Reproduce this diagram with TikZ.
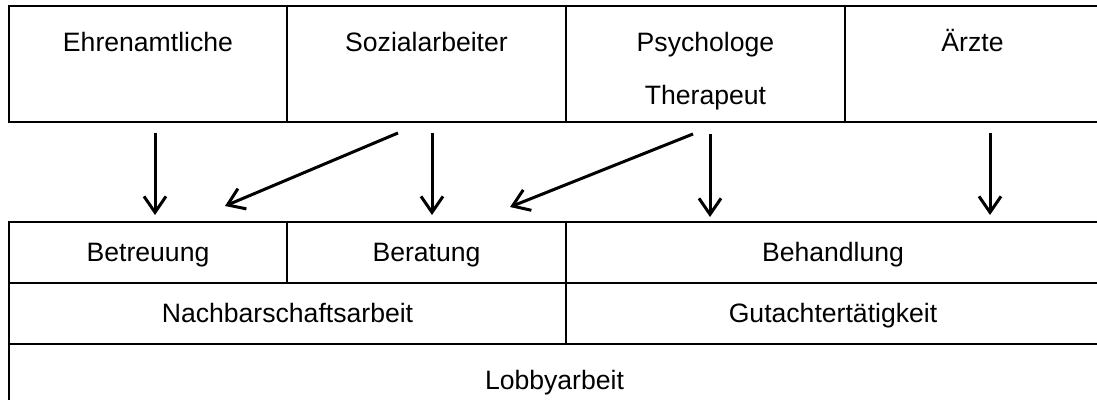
\documentclass[tikz,border=0pt]{standalone}
\usepackage{fontspec}
\setmainfont{Liberation Sans}
\usetikzlibrary{arrows.meta}
\tikzset{person/.style={
  draw, line width=1.4pt,
  anchor=north west,
  inner sep=0pt, outer sep=0pt,
  text height=23pt, text depth=35pt,
  minimum height=58pt,
  font=\fontsize{13.3}{26.5}\selectfont
}}
\tikzset{task/.style={
  draw, line width=1.4pt,
  anchor=north west,
  inner sep=0pt, outer sep=0pt,
  text height=11pt, text depth=2pt,
  minimum height=30.5pt,
  font=\fontsize{13.3}{16}\selectfont
}}
\tikzset{flow/.style={
  line width=1.5pt,
  -{Straight Barb[length=8pt,width=11pt]}
}}

\begin{document}
\begin{tikzpicture}[x=0.5pt,y=-0.5pt]
  \useasboundingbox (0,0) rectangle (1097,400);
  \clip (0,0) rectangle (1097,400);

  % who does it
  \node [person, minimum width=139pt] (ehren) at (9,6) {Ehrenamtliche};
  \node [person, minimum width=139.5pt] (sozial) at (ehren.north east) {Sozialarbeiter};
  \node [person, minimum width=139.5pt] (psycho) at (sozial.north east)
    {\begin{tabular}[t]{@{}c@{}}Psychologe\\Therapeut\end{tabular}};
  \node [person, minimum width=127.5pt] (aerzte) at (psycho.north east) {Ärzte};

  % what they do
  \node [task, minimum width=139pt] (betreuung) at (9,222) {Betreuung};
  \node [task, minimum width=139.5pt] (beratung) at (betreuung.north east) {Beratung};
  \node [task, minimum width=267pt] (behandlung) at (beratung.north east) {Behandlung};
  \node [task, minimum width=278.5pt] (nachbar) at (betreuung.south west) {Nachbarschaftsarbeit};
  \node [task, minimum width=267pt] (gutachter) at (nachbar.north east) {Gutachtertätigkeit};
  \node [task, minimum width=545.5pt, minimum height=37pt] (lobby) at (nachbar.south west) {Lobbyarbeit};

  \coordinate (ehren-o) at (155,133);
  \coordinate (betreuung-i) at (155,215);
  \coordinate (sozial-o1) at (398,133);
  \coordinate (betreuung-i2) at (225,206);
  \coordinate (sozial-o2) at (432,133);
  \coordinate (beratung-i) at (432,215);
  \coordinate (psycho-o1) at (693,134);
  \coordinate (beratung-i2) at (510,207);
  \coordinate (psycho-o2) at (710,134);
  \coordinate (behandlung-i) at (710,217);
  \coordinate (aerzte-o) at (990,133);
  \coordinate (behandlung-i2) at (990,215);

  \foreach \from/\to in {ehren-o/betreuung-i, sozial-o1/betreuung-i2,
    sozial-o2/beratung-i, psycho-o1/beratung-i2,
    psycho-o2/behandlung-i, aerzte-o/behandlung-i2}
    \draw [flow] (\from) -- (\to);
\end{tikzpicture}
\end{document}
